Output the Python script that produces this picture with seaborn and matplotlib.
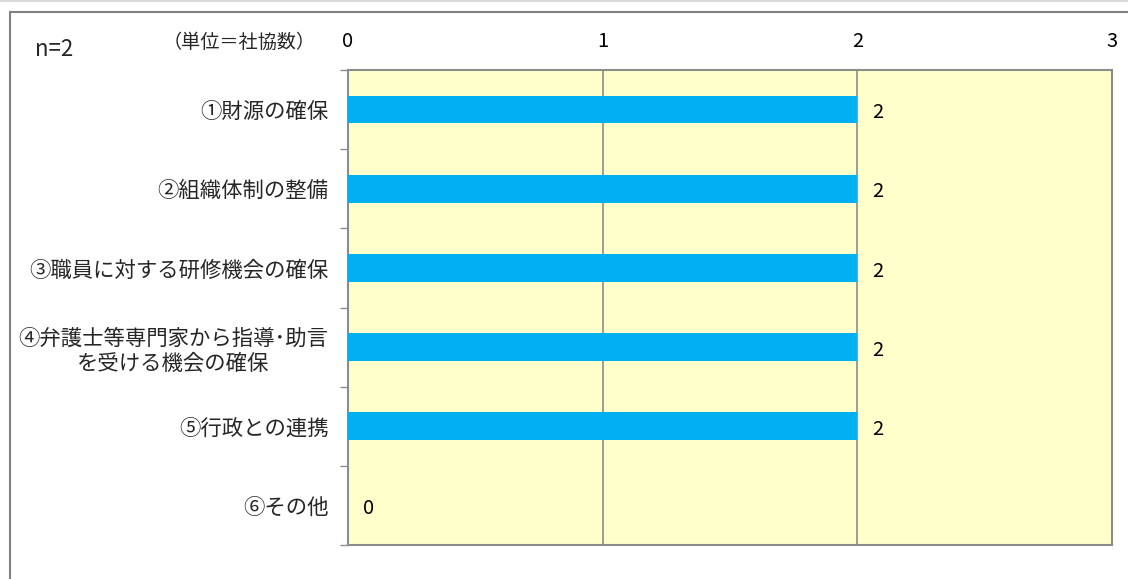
import matplotlib
matplotlib.use("Agg")
import matplotlib.pyplot as plt
import seaborn as sns
import pandas as pd
from matplotlib.patches import Rectangle

categories = ["①財源の確保", "②組織体制の整備", "③職員に対する研修機会の確保",
              "④弁護士等専門家から指導･助言\nを受ける機会の確保", "⑤行政との連携", "⑥その他"]
values = [2, 2, 2, 2, 2, 0]
x_ticks = [0, 1, 2, 3]

sns.set_theme(style="white")
plt.rcParams['font.family'] = ['Noto Sans CJK JP', 'DejaVu Sans']

fig = plt.figure(figsize=(11.28, 5.79), dpi=100)
ax = fig.add_axes([348/1128, 1 - 545/579, (1112-348)/1128, (545-70)/579])

df = pd.DataFrame({"cat": categories, "val": values})
sns.barplot(data=df, x="val", y="cat", color="#00B0F0", width=0.35, ax=ax,
            saturation=1, edgecolor="none", zorder=3)

ax.set_facecolor("#FFFFCC")
ax.set_xlim(0, 3)
ax.set_ylim(len(categories) - 0.5, -0.5)
ax.set_xlabel("")
ax.set_ylabel("")

ax.xaxis.tick_top()
ax.set_xticks(x_ticks)
ax.set_xticklabels([str(t) for t in x_ticks], fontsize=14.5)
ax.tick_params(axis="x", length=0, pad=13, colors="black")
for xv in x_ticks[1:-1]:
    ax.axvline(xv, color="#8C8C8C", lw=1.2, zorder=1)

ax.set_yticks(range(len(categories)))
ax.set_yticklabels(categories, fontsize=15.4)
for t in ax.get_yticklabels():
    t.set_multialignment("center")
    t.set_linespacing(1.22)
ax.tick_params(axis="y", which="major", length=0, pad=14)
ax.set_yticks([i - 0.5 for i in range(len(categories) + 1)], minor=True)
ax.tick_params(axis="y", which="minor", length=6, width=1, color="#8C8C8C", left=True)

for s in ax.spines.values():
    s.set_color("#8C8C8C")
    s.set_linewidth(1.5)
    s.set_visible(True)

for i, v in enumerate(values):
    ax.text(v + 0.06, i + 0.04, str(v), va="center", ha="left", fontsize=14.5, color="black", zorder=4)

fig.text(35/1128, 1 - 50/579, "n=2", fontsize=16, va="center", ha="left")
fig.text(163/1128, 1 - 42/579, "（単位＝社協数）", fontsize=13.8, va="center", ha="left")

fig.patches.append(Rectangle((10/1128, -0.1), 1.2, 1 - 12/579 + 0.1, transform=fig.transFigure,
                             fill=False, edgecolor="#808080", lw=1.5))
fig.patches.append(Rectangle((0, 1 - 2/579), 1, 2/579, transform=fig.transFigure,
                             facecolor="#D9D9D9", edgecolor="none"))

fig.savefig("out.png", dpi=100)
